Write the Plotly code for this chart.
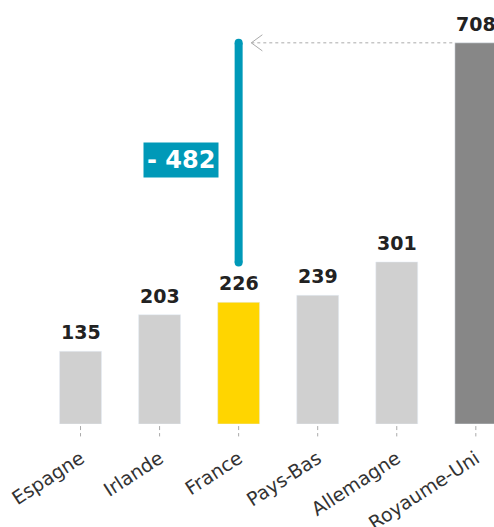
import plotly.graph_objects as go

countries = ["Espagne", "Irlande", "France", "Pays-Bas", "Allemagne", "Royaume-Uni"]
values = [135, 203, 226, 239, 301, 708]
bar_colors = ["#d0d0d0", "#d0d0d0", "#ffd500", "#d0d0d0", "#d0d0d0", "#878787"]

gap_label = "- 482"
gap_top = 708
gap_bottom = 300

fig = go.Figure()

fig.add_trace(go.Bar(
    x=countries, y=values, marker_color=bar_colors, width=0.53,
    hoverinfo="skip",
))

# value labels above bars + dashed tick marks under each category
for c, v in zip(countries, values):
    fig.add_annotation(
        x=c, y=v, text="<b>%d</b>" % v, showarrow=False,
        yanchor="bottom", yshift=6,
        font=dict(family="DejaVu Sans", size=19, color="#222222"),
    )
    fig.add_shape(type="line", x0=c, x1=c, y0=-0.005, y1=-0.03,
                  xref="x", yref="paper",
                  line=dict(color="#aaaaaa", width=1, dash="4px,3px"))

# gap line above France
fig.add_trace(go.Scatter(
    x=["France", "France"], y=[gap_bottom, gap_top], mode="lines",
    line=dict(color="#0099b8", width=8), hoverinfo="skip",
))
fig.add_trace(go.Scatter(
    x=["France", "France"], y=[gap_bottom, gap_top], mode="markers",
    marker=dict(color="#0099b8", size=8, line_width=0), hoverinfo="skip",
))

# dashed arrow from UK bar to the line
fig.add_shape(type="line", x0=2.16, x1=4.72, y0=gap_top, y1=gap_top,
              line=dict(color="#aaaaaa", width=1, dash="3px,3px"))
fig.add_shape(type="path", path="M 2.3 %f L 2.16 %f L 2.3 %f" % (gap_top + 15, gap_top, gap_top - 15),
              line=dict(color="#aaaaaa", width=1))

fig.add_annotation(
    x=1.27, y=490, xref="x", yref="y", text="<b>" + gap_label + "</b>",
    showarrow=False, bgcolor="#0099b8", borderpad=3,
    font=dict(family="DejaVu Sans", size=24, color="white"),
)

fig.update_layout(
    width=494, height=527,
    margin=dict(l=41, r=0, t=10, b=103),
    paper_bgcolor="white", plot_bgcolor="white",
    showlegend=False,
    xaxis=dict(range=[-0.5, 5.23], showgrid=False, zeroline=False, showline=False,
               ticks="outside", ticklen=10, tickcolor="rgba(0,0,0,0)",
               tickangle=-33, ticklabelstandoff=5, automargin=False,
               tickfont=dict(family="DejaVu Sans", size=19, color="#333333")),
    yaxis=dict(range=[0, 769], visible=False),
)

fig.write_html("out.html", config={"displayModeBar": False},
               post_script="document.body.style.margin='0';")
